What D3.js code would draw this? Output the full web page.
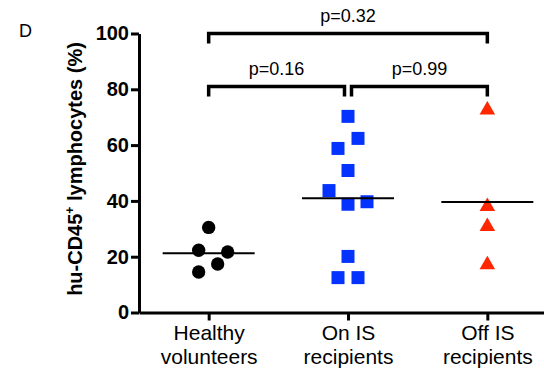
<!DOCTYPE html>
<html>
<head>
<meta charset="utf-8">
<script src="https://cdn.jsdelivr.net/npm/d3@7"></script>
<style>
  body { margin: 0; background: #fff; }
  svg { font-family: "Liberation Sans", Arial, sans-serif; }
</style>
</head>
<body>
<div id="chart"></div>
<script>
// groups on the x axis
const groups = ["Healthy volunteers", "On IS recipients", "Off IS recipients"];
const groupLines = [["Healthy", "volunteers"], ["On IS", "recipients"], ["Off IS", "recipients"]];

// values (% hu-CD45+ lymphocytes)
const healthy = [30.5, 22.3, 21.7, 17.4, 14.5];
const healthyDx = [0, -10, 19, 9, -10];
const onIS = [70.3, 62.4, 58.8, 50.9, 43.7, 39.7, 38.8, 20.1, 12.5, 12.5];
const onISDx = [0, 10, -10, 0, -19, 19, 0, 0, -10, 10];
const offIS = [72.6, 38.0, 30.8, 17.1];
const offISDx = [0, 0, 0, 0];

const yTicks = [0, 20, 40, 60, 80, 100];

// p-value brackets
const comparisons = [
    {from: 0, to: 2, level: 100, label: "p=0.32", gapL: 0, gapR: 0},
    {from: 0, to: 1, level: 81, label: "p=0.16", gapL: 0, gapR: 3.5},
    {from: 1, to: 2, level: 81, label: "p=0.99", gapL: 3.5, gapR: 0}
];

const width = 544, height = 374;
const margin = {top: 33.5, right: -13, bottom: 61.5, left: 139};

const svg = d3.select("#chart").append("svg")
    .attr("width", width)
    .attr("height", height);

const x = d3.scalePoint()
    .domain(groups)
    .range([margin.left, width - margin.right])
    .padding(0.5);

const y = d3.scaleLinear()
    .domain([0, 100])
    .range([height - margin.bottom, margin.top]);

// y axis
const yAxis = svg.append("g")
    .attr("transform", `translate(${margin.left},0)`)
    .call(d3.axisLeft(y).tickValues(yTicks).tickSize(8).tickSizeOuter(0).tickPadding(2));
yAxis.select(".domain").attr("stroke-width", 3);
yAxis.selectAll(".tick line").attr("stroke-width", 3);
yAxis.selectAll(".tick text")
    .attr("font-size", 20)
    .attr("font-weight", "bold")
    .attr("fill", "#000");

// x axis
const xAxis = svg.append("g")
    .attr("transform", `translate(0,${y(0)})`)
    .call(d3.axisBottom(x).tickSize(8).tickSizeOuter(0).tickFormat(""));
xAxis.select(".domain").attr("stroke-width", 3);
xAxis.selectAll(".tick line").attr("stroke-width", 3);

xAxis.selectAll(".tick").each(function(d, i) {
    const t = d3.select(this).append("text")
        .attr("fill", "#000")
        .attr("font-size", 21)
        .attr("text-anchor", "middle");
    groupLines[i].forEach((s, k) => {
        t.append("tspan").attr("x", 0).attr("y", 27 + k * 24).text(s);
    });
});

// y title
svg.append("text")
    .attr("transform", `translate(82,169) rotate(-90)`)
    .attr("text-anchor", "middle")
    .attr("font-size", 20)
    .attr("font-weight", "bold")
    .attr("fill", "#000")
    .call(t => {
        t.append("tspan").text("hu-CD45");
        t.append("tspan").attr("font-size", 12).attr("dy", -8).text("+");
        t.append("tspan").attr("dy", 8).text(" lymphocytes (%)");
    });

// panel letter
svg.append("text")
    .attr("x", 19).attr("y", 37)
    .attr("font-size", 18)
    .attr("fill", "#000")
    .text("D");

// points
const series = [
    {values: healthy, dx: healthyDx, shape: d3.symbolCircle, size: 140, color: "#000000"},
    {values: onIS, dx: onISDx, shape: d3.symbolSquare, size: 169, color: "#0433ff"},
    {values: offIS, dx: offISDx, shape: d3.symbolTriangle, size: 105, color: "#ff2600"}
];

series.forEach((s, i) => {
    const cx = x(groups[i]);
    svg.append("g")
        .selectAll("path")
        .data(s.values)
        .enter().append("path")
        .attr("d", d3.symbol().type(s.shape).size(s.size))
        .attr("transform", (d, k) => `translate(${cx + s.dx[k]},${y(d)})`)
        .attr("fill", s.color);

    // mean line
    const m = d3.mean(s.values);
    svg.append("line")
        .attr("x1", cx - 46).attr("x2", cx + 46)
        .attr("y1", y(m)).attr("y2", y(m))
        .attr("stroke", "#000")
        .attr("stroke-width", 2);
});

// brackets
comparisons.forEach(c => {
    const x1 = x(groups[c.from]) + c.gapL;
    const x2 = x(groups[c.to]) - c.gapR;
    const yy = y(c.level);
    svg.append("path")
        .attr("d", `M${x1},${yy + 10}V${yy}H${x2}V${yy + 10}`)
        .attr("fill", "none")
        .attr("stroke", "#000")
        .attr("stroke-width", 3.5);
    svg.append("text")
        .attr("x", (x1 + x2) / 2)
        .attr("y", yy - 12)
        .attr("text-anchor", "middle")
        .attr("font-size", 18)
        .attr("fill", "#000")
        .text(c.label);
});
</script>
</body>
</html>
